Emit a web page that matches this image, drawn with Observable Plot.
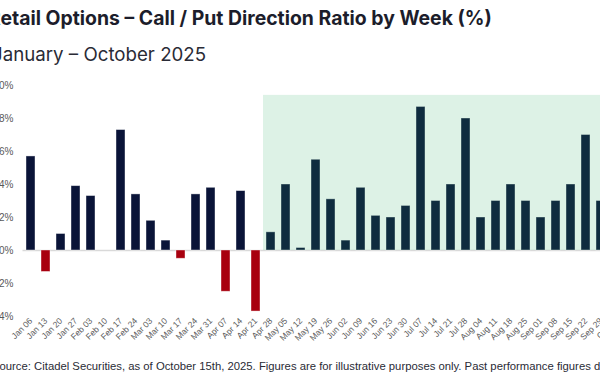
<!DOCTYPE html>
<html>
<head>
<meta charset="utf-8">
<script src="https://cdn.jsdelivr.net/npm/d3@7"></script>
<script src="https://cdn.jsdelivr.net/npm/@observablehq/plot@0.6"></script>
<style>
  html, body { margin: 0; padding: 0; background: #fff; width: 600px; height: 379px; overflow: hidden; position: relative; }
  .t { position: absolute; white-space: nowrap; line-height: 1; font-family: Inter, "Noto Sans", sans-serif; color: #1c1d2b; }
  #title { left: -12px; top: 9.4px; font-size: 19.4px; font-weight: 700; }
  #subtitle { left: -8px; top: 46px; font-size: 18.7px; font-weight: 400; color: #2a2b36; }
  #chart { position: absolute; left: -14px; top: 75px; width: 650px; }
  #chart svg { max-width: none !important; }
  #footer { left: -8px; top: 360.5px; font-size: 11.3px; color: #2a2b36; font-family: "Liberation Sans", Arial, sans-serif; }
</style>
</head>
<body>
<div class="t" id="title">Retail Options – Call / Put Direction Ratio by Week (%)</div>
<div class="t" id="subtitle">January – October 2025</div>
<div id="chart"></div>
<div class="t" id="footer">Source: Citadel Securities, as of October 15th, 2025. Figures are for illustrative purposes only. Past performance figures do not guarantee future results.</div>
<script>
const weeks = ["Jan 06","Jan 13","Jan 20","Jan 27","Feb 03","Feb 10","Feb 17","Feb 24","Mar 03","Mar 10","Mar 17","Mar 24","Mar 31","Apr 07","Apr 14","Apr 21","Apr 28","May 05","May 12","May 19","May 26","Jun 02","Jun 09","Jun 16","Jun 23","Jun 30","Jul 07","Jul 14","Jul 21","Jul 28","Aug 04","Aug 11","Aug 18","Aug 25","Sep 01","Sep 08","Sep 15","Sep 22","Sep 29","Oct 06"];
const values = [5.7,-1.3,1.0,3.9,3.3,0,7.3,3.4,1.8,0.6,-0.5,3.4,3.8,-2.5,3.6,-3.7,1.1,4.0,0.15,5.5,3.1,0.6,3.8,2.1,2.0,2.7,8.7,3.0,4.0,8.0,2.0,3.0,4.0,3.0,2.0,3.0,4.0,7.0,3.0,null];
const yTicks = [-4,-2,0,2,4,6,8,10];
const shadeStart = "Apr 28";
const shadeTop = 9.4;

const data = weeks.map((w, i) => ({week: w, value: values[i]}));
const shadeWeeks = weeks.slice(weeks.indexOf(shadeStart)).map(w => ({week: w}));

const chart = Plot.plot({
  width: 650,
  height: 280,
  marginLeft: 33.5,
  marginRight: 10.5,
  marginTop: 10,
  marginBottom: 39,
  style: {fontFamily: "'Liberation Sans', Arial, sans-serif", color: "#595959", background: "transparent", maxWidth: "none"},
  x: {domain: weeks, padding: 0.4, label: null},
  y: {domain: [-4, 10], label: null},
  marks: [
    Plot.axisY({ticks: yTicks, tickFormat: d => d + "%", tickSize: 0, tickPadding: 6.5, fontSize: 10, label: null}),
    Plot.axisX({tickSize: 0, tickPadding: 3, tickRotate: -45, fontSize: 8.5, label: null, anchor: "bottom"}),
    Plot.ruleY([0], {stroke: "#d9d9d9", strokeWidth: 1.5, insetLeft: 3}),
    Plot.barY(data.filter(d => d.value != null), {
      x: "week", y: "value",
      fill: d => d.value < 0 ? "#a8000f" : "#0a1438",
      stroke: "#ffffff", strokeOpacity: 0.5, strokeWidth: 0.8
    }),
    Plot.barY(shadeWeeks, {x: "week", y1: 0, y2: shadeTop, fill: "#2ab063", fillOpacity: 0.16, insetLeft: -3, insetRight: -3})
  ]
});
document.getElementById("chart").appendChild(chart);
</script>
</body>
</html>
